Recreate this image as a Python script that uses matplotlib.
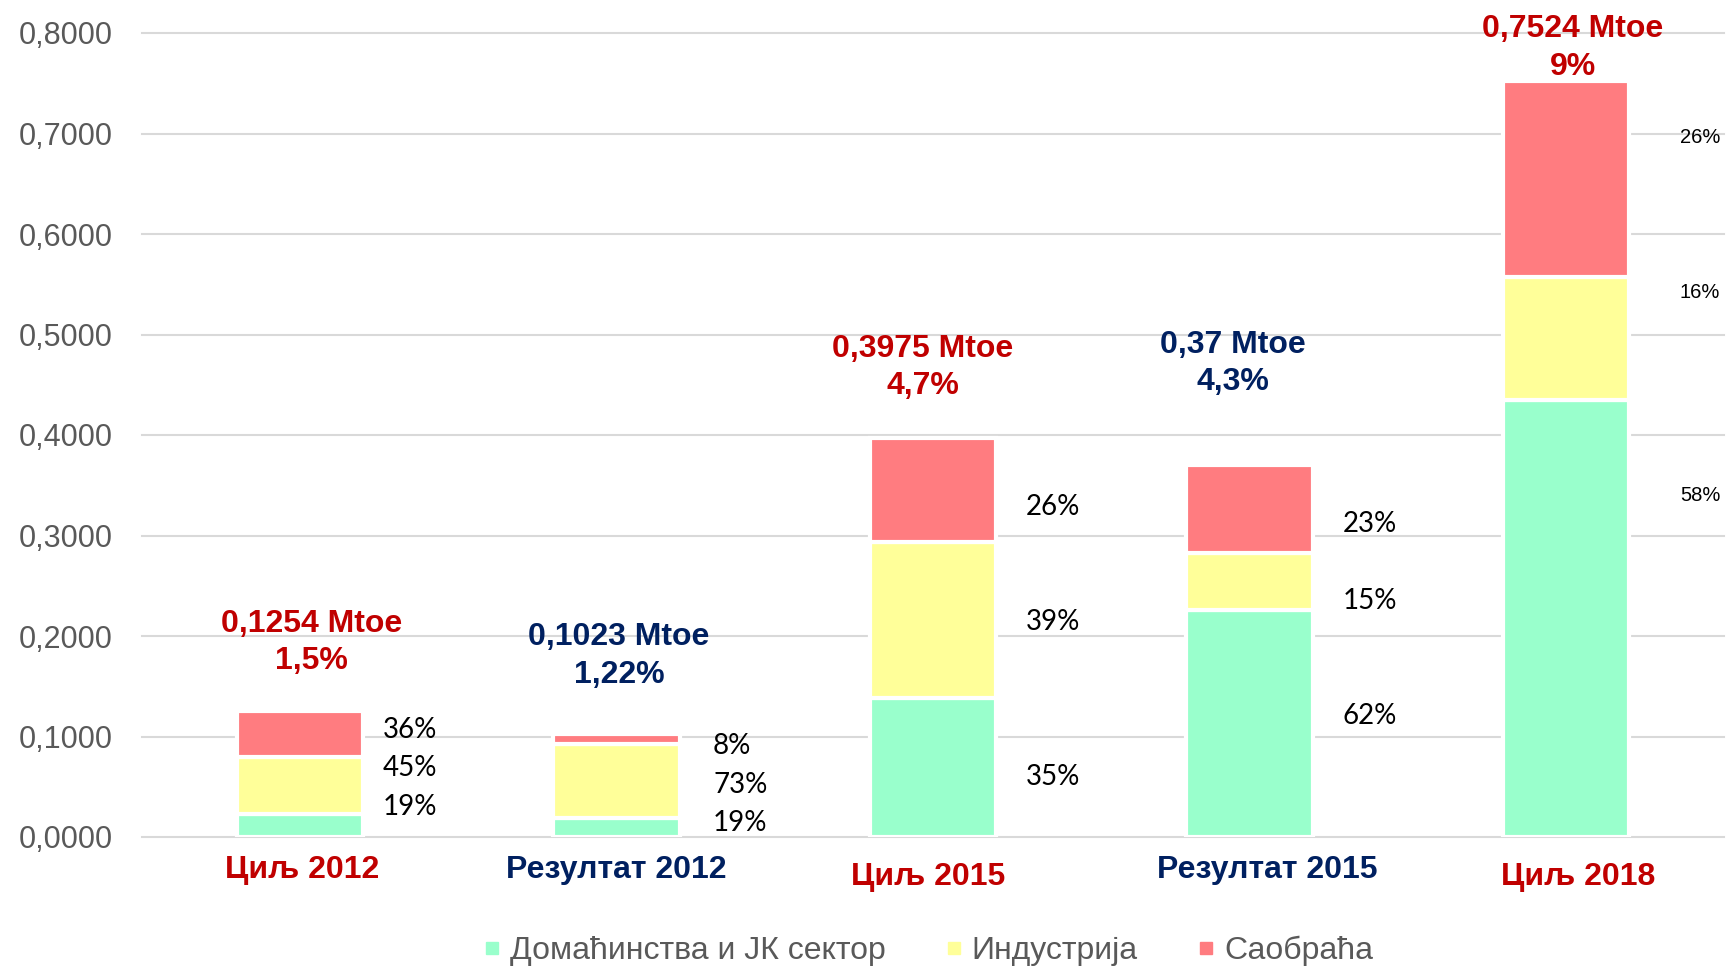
import matplotlib
matplotlib.use('Agg')
import matplotlib.pyplot as plt
from matplotlib.lines import Line2D
from matplotlib.ticker import FuncFormatter

plt.rcParams['font.family'] = ['Liberation Sans', 'DejaVu Sans']

# Data (Mtoe)
categories = ['Циљ 2012', 'Резултат 2012', 'Циљ 2015', 'Резултат 2015', 'Циљ 2018']
households = [0.0224, 0.0190, 0.1383, 0.2260, 0.4348]
industry = [0.0572, 0.0740, 0.1552, 0.0570, 0.1229]
transport = [0.0458, 0.0093, 0.1040, 0.0870, 0.1948]
series_names = ['Домаћинства и ЈК сектор', 'Индустрија', 'Саобраћа']

totals_text = ['0,1254 Mtoe', '0,1023 Mtoe', '0,3975 Mtoe', '0,37 Mtoe', '0,7524 Mtoe']
share_text = ['1,5%', '1,22%', '4,7%', '4,3%', '9%']
households_pct = ['19%', '19%', '35%', '62%', '58%']
industry_pct = ['45%', '73%', '39%', '15%', '16%']
transport_pct = ['36%', '8%', '26%', '23%', '26%']

# styling / label placement
colors = ['#99FFCC', '#FFFF99', '#FF7C80']
label_colors = ['#C00000', '#002060', '#C00000', '#002060', '#C00000']
cat_offsets = [(1.5, -41), (0, -41), (-5, -48), (18, -41), (12, -48)]          # px from bar foot
head_offsets = [(11.5, 79, 42), (2.5, 89, 51), (-10, 80.5, 43.5), (-16.5, 112, 75), (7, 44, 6)]  # px from bar top
pct_y = [(0.0985, 0.0607, 0.0219), (0.0826, 0.0438, 0.0060), (0.3204, 0.2060, 0.0522),
         (0.3035, 0.2269, 0.1124), (0.6905, 0.5368, 0.3343)]
pct_dx = [82.5, 96.5, 93, 93.5, 114]

fig = plt.figure(figsize=(17.26, 9.68), dpi=100)
ax = fig.add_axes([142 / 1726, 131 / 968, 1582 / 1726, 804 / 968])

x = list(range(len(categories)))
bottom2 = [a + b for a, b in zip(households, industry)]
totals = [a + b for a, b in zip(bottom2, transport)]

ax.bar(x, households, width=0.4, color=colors[0], edgecolor='white', linewidth=3)
ax.bar(x, industry, width=0.4, bottom=households, color=colors[1], edgecolor='white', linewidth=3)
ax.bar(x, transport, width=0.4, bottom=bottom2, color=colors[2], edgecolor='white', linewidth=3)

ax.set_xlim(-0.5, 4.5)
ax.set_ylim(0, 0.8)
ax.set_yticks([i / 10 for i in range(9)])
ax.yaxis.set_major_formatter(FuncFormatter(lambda v, p: f'{v:.4f}'.replace('.', ',')))
ax.set_xticks([])
ax.tick_params(axis='y', length=0, pad=21, labelsize=22, labelcolor='#595959')
ax.yaxis.grid(True, color='#D9D9D9', linewidth=1.5)
ax.set_axisbelow(True)
for gl in ax.get_ygridlines():
    gl.set_clip_on(False)
for s in ax.spines.values():
    s.set_visible(False)

for i in x:
    c = label_colors[i]
    dx, dy = cat_offsets[i]
    ax.annotate(categories[i], (i, 0), xytext=(dx, dy), textcoords='offset pixels',
                ha='center', va='baseline', fontsize=23, fontweight='bold', color=c,
                annotation_clip=False)
    hx, h1, h2 = head_offsets[i]
    ax.annotate(totals_text[i], (i, totals[i]), xytext=(hx, h1), textcoords='offset pixels',
                ha='center', va='baseline', fontsize=23, fontweight='bold', color=c,
                annotation_clip=False)
    ax.annotate(share_text[i], (i, totals[i]), xytext=(hx, h2), textcoords='offset pixels',
                ha='center', va='baseline', fontsize=23, fontweight='bold', color=c,
                annotation_clip=False)
    labels = [transport_pct[i], industry_pct[i], households_pct[i]]
    for lab, yy in zip(labels, pct_y[i]):
        if i < 4:
            kw = dict(fontsize=20, family=['Lato', 'DejaVu Sans'])
        else:
            kw = dict(fontsize=14.5)
        ax.annotate(lab, (i, yy), xytext=(pct_dx[i], 0), textcoords='offset pixels',
                    ha='left', va='baseline', color='black', annotation_clip=False, **kw)

handles = [Line2D([], [], ls='none', marker='s', ms=9, mfc=c, mec=c) for c in colors]
fig.legend(handles, series_names, loc='center', bbox_to_anchor=(0.538, 0.018), ncol=3,
           frameon=False, fontsize=23, labelcolor='#595959', handlelength=0.5,
           handletextpad=0.3, columnspacing=1.9)

fig.savefig('out.png', dpi=100)
